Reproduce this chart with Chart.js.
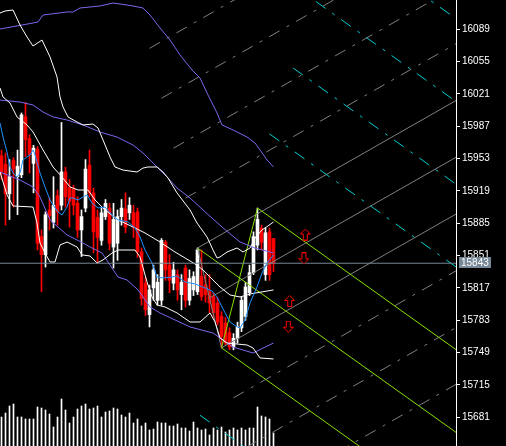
<!DOCTYPE html>
<html lang="en">
<head>
<meta charset="UTF-8">
<title>Price chart</title>
<script src="https://cdn.jsdelivr.net/npm/chart.js"></script>
<style>
  html, body { margin: 0; padding: 0; background: #000; }
  canvas { display: block; }
</style>
</head>
<body>
<canvas id="chart" width="506" height="446"></canvas>
<script>
// candles (bar index 0..68)
const opens = [15956,15947,15916,15951,15934,15936,15997,15974,15948,15963,
  15871,15852,15899,15886,15914,15904,15939,15923,15921,15906,
  15878,15901,15946,15917,15891,15867,15892,15901,15860,15864,
  15892,15900,15896,15896,15897,15855,15822,15789,15817,15804,
  15804,15865,15841,15822,15831,15810,15838,15804,15815,15813,
  15829,15820,15813,15808,15801,15787,15780,15770,15755,15764,
  15775,15787,15812,15833,15862,15880,15831,15876,15869];
const highs = [15962,15959,15952,15954,15962,16001,16012,15978,15967,15966,
  15878,15897,15912,15934,15920,15991,15944,15931,15925,15913,
  15899,15952,15962,15922,15899,15901,15910,15906,15906,15899,
  15910,15917,15912,15904,15901,15859,15828,15820,15841,15831,
  15869,15867,15852,15844,15836,15831,15841,15836,15834,15859,
  15857,15831,15831,15812,15807,15792,15786,15775,15769,15781,
  15808,15823,15841,15876,15901,15883,15880,15880,15869];
const lows = [15931,15883,15889,15902,15894,15933,15955,15938,15917,15857,
  15813,15839,15878,15880,15883,15899,15902,15881,15894,15870,
  15850,15897,15913,15854,15843,15862,15889,15857,15838,15846,
  15883,15875,15889,15870,15849,15799,15788,15776,15804,15799,
  15799,15825,15812,15815,15804,15794,15797,15799,15809,15810,
  15804,15802,15791,15786,15778,15754,15757,15752,15752,15759,
  15771,15783,15809,15831,15857,15857,15825,15825,15834];
const closes = [15939,15916,15934,15942,15945,15999,15973,15957,15964,15864,
  15852,15894,15893,15904,15897,15939,15913,15908,15904,15878,
  15892,15942,15917,15876,15870,15896,15906,15864,15889,15892,
  15901,15881,15904,15881,15855,15806,15794,15815,15836,15823,
  15867,15836,15825,15836,15815,15823,15804,15827,15829,15857,
  15808,15810,15801,15791,15781,15766,15759,15755,15764,15776,
  15804,15818,15833,15871,15889,15865,15875,15831,15843];
const volumes = [29,33,40,42,29,29,27,27,27,39, 38,36,32,19,29,47,36,23,29,37,
  40,42,37,38,40,29,34,35,38,37, 31,29,33,23,27,20,23,16,17,24,
  23,23,20,20,22,18,18,15,24,18, 16,17,11,18,16,19,14,16,18,16,
  18,16,18,18,39,30,29,27,13];

const tickPrices = [15681,15715,15749,15783,15817,15851,15885,15919,15953,15987,16021,16055,16089,16123];
const bidPrice = 15843;

// indicator lines, [bar, price]
const maFast = [[-0.38,15990.5],[0.38,15975.7],[1.38,15960],[2.13,15944.2],[2.88,15937.9],[3.88,15933.7],
  [4.63,15937.9],[5.38,15951.6],[6.38,15954.7],[7.13,15956.8],[7.88,15962.1],[8.38,15956.8],[9.63,15937.9],
  [10.88,15923.2],[12.13,15909.5],[12.88,15904.2],[14.13,15896.9],[15.13,15893.7],[16.38,15902.1],[17.13,15911.6],
  [17.88,15911.6],[19.13,15909.5],[20.38,15912.7],[21.38,15914.8],[22.63,15906.3],[24.13,15901.1],[25.88,15902.1],
  [27.63,15893.7],[29.13,15888.5],[31.63,15886.4],[33.38,15880.1],[34.63,15870.6],[35.88,15856.9],[37.63,15843.3],
  [38.88,15828.5],[40.38,15827.5],[42.63,15828.5],[43.88,15829.6],[45.88,15823.3],[48.38,15821.2],[50.88,15817],
  [52.63,15813.8],[53.88,15807.5],[55.38,15794.9],[57.13,15781.2],[58.88,15776],[59.63,15774.9],[60.88,15783.3],
  [62.13,15801.2],[63.88,15818],[65.13,15832.7],[66.38,15843.3],[67.63,15849.6],[68,15851.7]];
const bandUp = [[-0.38,16106.1],[0.88,16108.2],[2.88,16109.3],[4.63,16093.5],[6.38,16080.9],[7.88,16071.4],
  [10.13,16077.7],[12.13,16059.9],[13.88,16038.8],[14.63,16017.8],[15.38,16007.3],[16.63,15996.8],[18.88,15991.5],
  [20.38,15988.4],[22.88,15989.4],[24.13,15985.2],[25.38,15972.6],[27.13,15954.7],[28.38,15944.2],[30.38,15941],
  [33.88,15938.9],[35.38,15943.1],[36.63,15944.2],[38.88,15944.2],[40.38,15938.9],[41.63,15932.6],[43.88,15916.9],
  [47.13,15899],[48.88,15885.3],[51.38,15870.6],[52.88,15856.9],[53.88,15848.5],[54.63,15849.6],[56.38,15854.8],
  [58.88,15859],[60.38,15854.8],[62.13,15859],[63.38,15869.5],[65.13,15878],[66.63,15882.2],[68,15886.4]];
const bandMid = [[-0.38,16027.3],[0.38,16017.8],[2.13,16011.5],[3.88,15996.8],[6.38,15988.4],[7.88,15981],
  [10.38,15962.1],[12.88,15944.2],[15.13,15933.7],[17.13,15923.2],[19.13,15920],[21.63,15920],[23.38,15909.5],
  [25.88,15899],[29.13,15888.5],[33.38,15880.1],[35.88,15874.8],[39.63,15865.3],[43.38,15854.8],[45.88,15848.5],
  [48.38,15842.2],[50.38,15835.9],[52.13,15828.5],[54.63,15818],[57.13,15809.6],[59.63,15807.5],[62.13,15810.7],
  [68,15814.9]];
const bandLow = [[-0.38,15938.9],[1.38,15914.8],[2.88,15903.2],[7.88,15902.1],[8.88,15885.3],[9.63,15864.3],
  [10.88,15853.8],[12.13,15844.3],[13.38,15844.3],[14.63,15862.2],[16.38,15865.3],[18.88,15860.1],[20.13,15851.7],
  [22.13,15850.6],[23.88,15843.3],[25.38,15846.4],[27.63,15853.8],[29.13,15856.9],[33.38,15856.9],[34.63,15849.6],
  [36.38,15823.3],[37.63,15807.5],[38.88,15799.1],[40.88,15797],[43.88,15790.7],[47.13,15781.2],[49.63,15781.2],
  [52.13,15790.7],[53.38,15781.2],[54.63,15764.4],[56.38,15759.1],[61.38,15757],[62.88,15753.9],[64.63,15743.4],
  [68,15742.3]];
const slowUp = [[-0.38,16089.3],[7.88,16095.6],[9.13,16096.7],[10.38,16104],[16.38,16107.2],[17.88,16107.2],
  [19.63,16111.4],[24.63,16113.5],[27.88,16116.6],[29.63,16115.6],[32.88,16113.5],[35.38,16111.4],[37.13,16104],
  [39.63,16090.4],[42.13,16077.7],[44.63,16062],[47.63,16046.2],[49.63,16037.8],[51.63,16019.9],[53.88,16001],
  [55.13,15988.4],[57.88,15983.1],[61.38,15975.7],[63.38,15969.4],[64.63,15962.1],[66.38,15951.6],[68,15944.2]];
const slowMid = [[-0.38,16014.6],[4.63,16012.5],[7.88,16009.4],[10.38,16002],[12.88,15996.8],[16.38,15993.6],
  [20.38,15988.4],[24.63,15981],[28.88,15975.7],[32.88,15967.3],[35.38,15958.9],[37.88,15948.4],[41.38,15933.7],
  [43.88,15922.1],[47.13,15911.6],[50.38,15899],[55.38,15880.1],[59.63,15865.3],[63.38,15859],[68,15853.8]];
const slowLow = [[-0.38,15938.9],[4.63,15930.5],[7.88,15923.2],[9.63,15912.7],[12.13,15888.5],[16.38,15872.7],
  [20.38,15864.3],[22.13,15860.1],[25.13,15853.8],[29.13,15828.5],[31.38,15825.4],[34.13,15814.9],[37.13,15797],
  [39.63,15790.7],[47.13,15776],[52.88,15769.6],[57.88,15754.9],[62.88,15748.6],[68,15759.1]];

// drawing objects
const pivotBars = [49, 55, 64];
const pivotPrices = [15859, 15754, 15901];
const channelDir = [94, 15967];           // second point of the gray channel base line
const warnStarts = [67, 72.9, 78.6, 84.4]; // bars where upper warning lines begin
const warnLowStart = 49.6;
const arrowBars = [75.95, 75.6, 72.05, 71.7];
const arrowPrices = [15873.2, 15848.2, 15803.3, 15776.3];
const arrowUp = [true, false, true, false];

const X_END = 114;
const DASH_DOT = [12, 8, 3, 8];
const pts = a => a.map(p => ({x: p[0], y: p[1]}));

function lineDs(data, color, order, dash) {
  return { type: 'line', data: data, borderColor: color, borderWidth: 1, borderDash: dash || [],
    pointRadius: 0, tension: 0, fill: false, order: order };
}

function makeArrow(up) {
  const c = document.createElement('canvas');
  c.width = 11; c.height = 12;
  const g = c.getContext('2d');
  const p = [[5.5,0.5],[10.5,5.5],[7.5,5.5],[7.5,11.5],[3.5,11.5],[3.5,5.5],[0.5,5.5]];
  g.beginPath();
  p.forEach((q, i) => {
    const y = up ? q[1] : 12 - q[1];
    if (i === 0) g.moveTo(q[0], y); else g.lineTo(q[0], y);
  });
  g.closePath();
  g.fillStyle = '#000';
  g.fill();
  g.strokeStyle = '#ff0000';
  g.lineWidth = 1;
  g.stroke();
  return c;
}

const bars = opens.map((_, i) => i);
const candleColor = bars.map(i => closes[i] >= opens[i] ? '#ffffff' : '#ff0000');

const datasets = [];

// volumes, wicks, bodies
datasets.push({ type: 'bar', data: bars.map(i => ({x: i, y: volumes[i]})), backgroundColor: '#ffffff',
  barThickness: 1, grouped: false, yAxisID: 'yv', order: 20 });
datasets.push({ type: 'bar', data: bars.map(i => ({x: i, y: [lows[i], highs[i]]})), backgroundColor: candleColor,
  barThickness: 1, grouped: false, order: 19 });
datasets.push({ type: 'bar', data: bars.map(i => ({x: i, y: [opens[i], closes[i]]})), backgroundColor: candleColor,
  barThickness: 3, grouped: false, minBarLength: 1, order: 18 });

// gray channel
const P1 = {x: pivotBars[0], y: pivotPrices[0]};
const P2 = {x: pivotBars[1], y: pivotPrices[1]};
const P3 = {x: pivotBars[2], y: pivotPrices[2]};
const chSlope = (channelDir[1] - P1.y) / (channelDir[0] - P1.x);
for (let k = -4; k <= 5; k++) {
  const sx = P1.x + (P2.x - P1.x) * k / 2;
  const sy = P1.y + (P2.y - P1.y) * k / 2;
  const solid = k >= 0 && k <= 2;
  datasets.push(lineDs([{x: sx, y: sy}, {x: X_END, y: sy + chSlope * (X_END - sx)}], '#808080', 12,
    solid ? [] : DASH_DOT));
}
datasets.push(lineDs([P1, P2], '#808080', 12));

// pitchfork
const M = {x: (P2.x + P3.x) / 2, y: (P2.y + P3.y) / 2};
const pfSlope = (M.y - P1.y) / (M.x - P1.x);
const at = (p, x) => p.y + pfSlope * (x - p.x);
const pfGreen = '#88e000';
datasets.push(lineDs([P1, {x: X_END, y: at(P1, X_END)}], pfGreen, 10));
datasets.push(lineDs([P2, {x: X_END, y: at(P2, X_END)}], pfGreen, 10));
datasets.push(lineDs([P3, {x: X_END, y: at(P3, X_END)}], pfGreen, 10));
datasets.push(lineDs([P2, P3], pfGreen, 10));

// warning lines
const spread = P3.y - at(P1, P3.x);
warnStarts.forEach((sx, i) => {
  const base = {x: P3.x, y: P3.y + spread * (i + 1)};
  datasets.push(lineDs([{x: sx, y: at(base, sx)}, {x: X_END, y: at(base, X_END)}], '#00ced1', 11, DASH_DOT));
});
const lowBase = {x: P2.x, y: P2.y - spread};
datasets.push(lineDs([{x: warnLowStart, y: at(lowBase, warnLowStart)}, {x: X_END, y: at(lowBase, X_END)}],
  '#00ced1', 11, DASH_DOT));

// indicators
datasets.push(lineDs(pts(slowUp), '#7b68ee', 6));
datasets.push(lineDs(pts(slowMid), '#7b68ee', 6));
datasets.push(lineDs(pts(slowLow), '#7b68ee', 6));
datasets.push(lineDs(pts(bandUp), '#ffffff', 5));
datasets.push(lineDs(pts(bandMid), '#ffffff', 5));
datasets.push(lineDs(pts(bandLow), '#ffffff', 5));
datasets.push(lineDs(pts(maFast), '#1e90ff', 4));

// bid line
datasets.push(lineDs([{x: -1, y: bidPrice}, {x: X_END, y: bidPrice}], '#778899', 2));

// arrows
datasets.push({ type: 'line', showLine: false, order: 1,
  data: arrowBars.map((b, i) => ({x: b, y: arrowPrices[i]})),
  pointStyle: arrowUp.map(u => makeArrow(u)), pointRadius: 6 });

const bidLabel = {
  id: 'bidLabel',
  beforeDraw(c) {
    const g = c.ctx;
    g.save();
    g.fillStyle = '#000';
    g.fillRect(0, 0, c.width, c.height);
    g.restore();
  },
  afterDraw(c) {
    const s = c.scales.y, g = c.ctx;
    const py = Math.round(s.getPixelForValue(bidPrice));
    g.save();
    g.fillStyle = '#778899';
    g.fillRect(s.left + 3, py - 6, 32, 11);
    g.fillStyle = '#ffffff';
    g.font = '10px "Liberation Sans"';
    g.textBaseline = 'middle';
    g.fillText(String(bidPrice), s.left + 5, py);
    g.restore();
  }
};

new Chart(document.getElementById('chart'), {
  type: 'bar',
  data: { datasets: datasets },
  options: {
    responsive: false,
    animation: false,
    events: [],
    layout: { padding: 0, autoPadding: false },
    plugins: { legend: { display: false }, tooltip: { enabled: false } },
    scales: {
      x: { type: 'linear', display: false, offset: false, min: -0.375, max: 113.625 },
      y: {
        type: 'linear', position: 'right', min: 15650.8, max: 16119.8,
        afterBuildTicks: s => { s.ticks = tickPrices.map(v => ({value: v})); },
        afterFit: s => { s.width = 50; s.paddingTop = 0; s.paddingBottom = 0; },
        ticks: { color: '#ffffff', autoSkip: false, padding: 2,
          font: { family: 'Liberation Sans', size: 10 }, callback: v => String(v) },
        grid: { drawOnChartArea: false, drawTicks: true, tickLength: 4, color: '#ffffff' },
        border: { display: true, color: '#ffffff' }
      },
      yv: { type: 'linear', display: false, min: 0, max: 446 }
    }
  },
  plugins: [bidLabel]
});
</script>
</body>
</html>
